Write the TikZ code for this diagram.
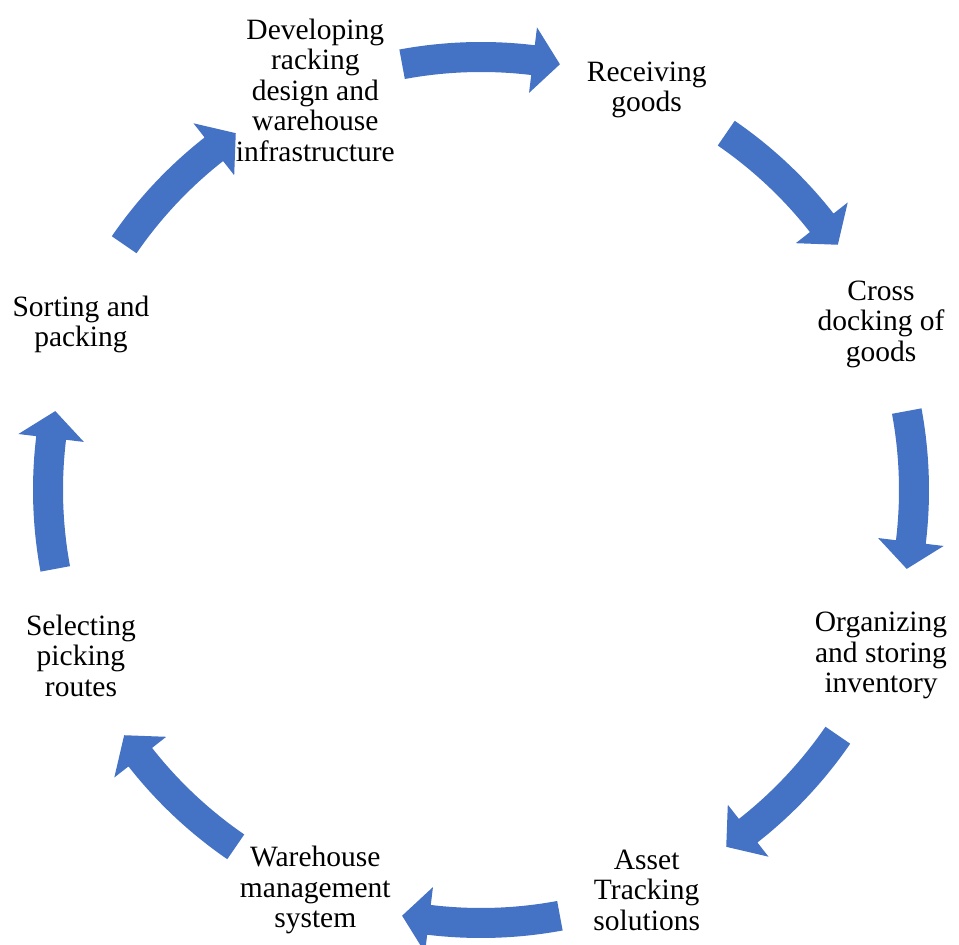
\documentclass[tikz,border=0pt]{standalone}
\usepackage{fontspec}
\setmainfont{Liberation Serif}
\definecolor{flowblue}{HTML}{4472C4}
\begin{document}
\begin{tikzpicture}[x=1pt,y=1pt,
  steplabel/.style={align=center, font=\fontsize{29.5}{30.5}\selectfont, inner sep=0pt},
  % curved block arrow centred on angle #1, running clockwise
  pics/cyclearrow/.style={code={
    \fill[flowblue] ({#1+10.5}:448pt)
      arc[start angle={#1+10.5}, end angle={#1-6.9}, radius=448pt]
      -- ({#1-6.9}:466pt) -- ({#1-10.5}:433pt) -- ({#1-6.9}:400pt) -- ({#1-6.9}:418pt)
      arc[start angle={#1-6.9}, end angle={#1+10.5}, radius=418pt] -- cycle;
  }}]
\useasboundingbox (0,0) rectangle (959,945);
\begin{scope}[shift={(481,455)}]
  \node[steplabel] (develop) at (112.5:433pt) {Developing\\racking\\design and\\warehouse\\infrastructure};
  \node[steplabel] (receive) at (67.5:433pt) {Receiving\\goods};
  \node[steplabel] (crossdock) at (22.5:433pt) {Cross\\docking of\\goods};
  \node[steplabel] (organize) at (-22.5:433pt) {Organizing\\and storing\\inventory};
  \node[steplabel] (asset) at (-67.5:433pt) {Asset\\Tracking\\solutions};
  \node[steplabel] (wms) at (-112.5:433pt) {Warehouse\\management\\system};
  \node[steplabel] (routes) at (-157.5:433pt) {Selecting\\picking\\routes};
  \node[steplabel] (sorting) at (157.5:433pt) {Sorting and\\packing};
  \foreach \a in {90,45,0,-45,-90,-135,180,135}
    \pic at (0,0) {cyclearrow=\a};
\end{scope}
\end{tikzpicture}
\end{document}
